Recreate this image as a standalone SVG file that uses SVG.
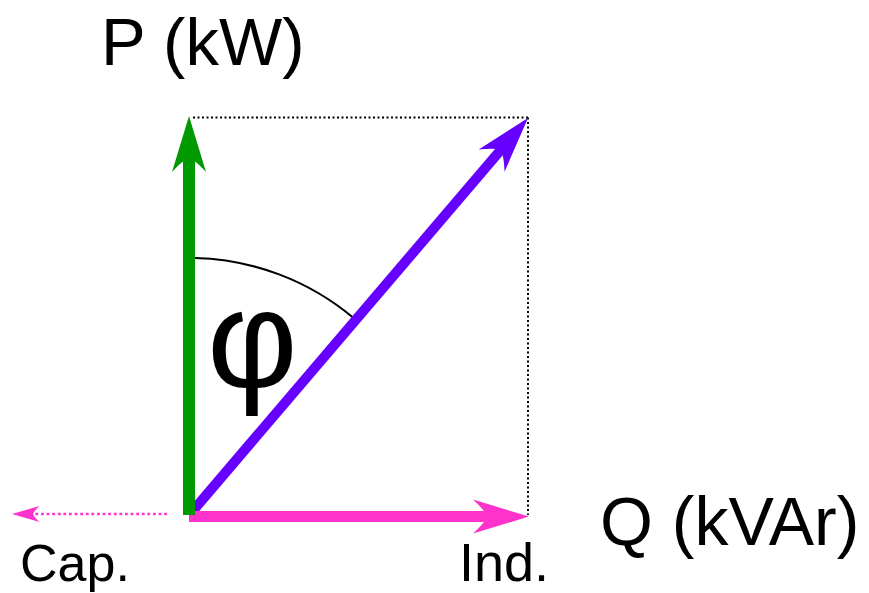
<svg xmlns="http://www.w3.org/2000/svg" width="869" height="593" viewBox="0 0 869 593">
<style>
.lbl{font-family:"Liberation Sans",Arial,sans-serif;fill:#000}
.guide{fill:none;stroke:#000;stroke-width:2;stroke-dasharray:2 2.5}
</style>
<defs>
<marker id="headG" markerUnits="userSpaceOnUse" orient="auto" markerWidth="80" markerHeight="50" refX="0" refY="0" viewBox="-20 -25 80 50" overflow="visible">
<path d="M42,0 L-14,-17 Q-2,-6 0,0 Q-2,6 -14,17 Z" fill="#009900"/>
</marker>
<marker id="headP" markerUnits="userSpaceOnUse" orient="auto" markerWidth="80" markerHeight="50" refX="0" refY="0" viewBox="-20 -25 80 50" overflow="visible">
<path d="M42,0 L-14,-17 Q-2,-6 0,0 Q-2,6 -14,17 Z" fill="#6600ff"/>
</marker>
<marker id="headM" markerUnits="userSpaceOnUse" orient="auto" markerWidth="80" markerHeight="50" refX="0" refY="0" viewBox="-20 -25 80 50" overflow="visible">
<path d="M42,0 L-14,-17 Q-2,-6 0,0 Q-2,6 -14,17 Z" fill="#ff33cc"/>
</marker>
<marker id="headMs" markerUnits="userSpaceOnUse" orient="auto" markerWidth="40" markerHeight="30" refX="0" refY="0" viewBox="-10 -15 40 30" overflow="visible">
<path d="M21,0 L-6.5,-8 Q-1,-3 0,0 Q-1,3 -6.5,8 Z" fill="#ff33cc"/>
</marker>
</defs>

<g id="guides">
<line class="guide" x1="193" y1="117.5" x2="528" y2="117.5"/>
<line class="guide" x1="528" y1="117.5" x2="528" y2="515"/>
</g>

<g id="angle-arc">
<path d="M195,258 A256,256 0 0 1 353,317.5" fill="none" stroke="#000" stroke-width="2"/>
</g>

<g id="connectors">
<line id="S" x1="191" y1="513" x2="500.7" y2="150" stroke="#6600ff" stroke-width="10" marker-end="url(#headP)"/>
<line id="Qind" x1="189" y1="516.5" x2="487" y2="516.5" stroke="#ff33cc" stroke-width="11" marker-end="url(#headM)"/>
<line id="Qcap" x1="167" y1="514" x2="33" y2="514" stroke="#ff33cc" stroke-width="2.5" stroke-dasharray="2.8 2.8" marker-end="url(#headMs)"/>
<line id="P" x1="189" y1="515" x2="189" y2="158" stroke="#009900" stroke-width="12" marker-end="url(#headG)"/>
</g>

<g id="label-P"><text class="lbl" x="101" y="65" font-size="67">P (kW)</text></g>
<g id="label-Q"><text class="lbl" x="600" y="545" font-size="68">Q (kVAr)</text></g>
<g id="label-phi"><text class="lbl" x="207" y="387" font-size="140">φ</text></g>
<g id="label-cap"><text class="lbl" x="20" y="581" font-size="52">Cap.</text></g>
<g id="label-ind"><text class="lbl" x="459" y="581" font-size="54">Ind.</text></g>
</svg>
